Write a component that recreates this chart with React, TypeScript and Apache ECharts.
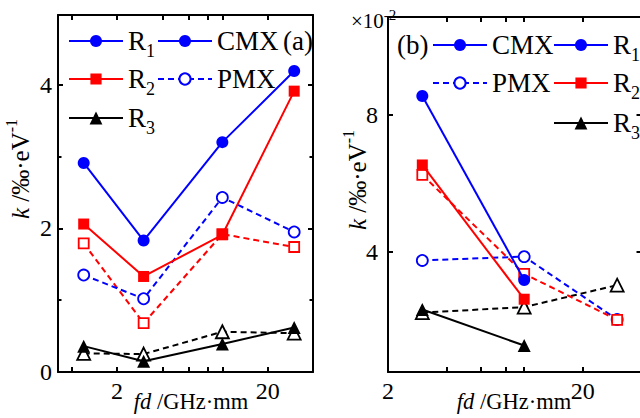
import React, { useEffect, useRef } from 'react';
import * as echarts from 'echarts';

// fd values (GHz·mm)
const fdA = [1.2, 3, 10, 30];
const fdB = [3, 10, 30];

// panel (a) k values (‰·eV^-1)
const aR1CMX = [2.91, 1.83, 3.2, 4.19];
const aR1PMX = [1.35, 1.02, 2.43, 1.95];
const aR2CMX = [2.06, 1.33, 1.91, 3.91];
const aR2PMX = [1.79, 0.68, 1.92, 1.74];
const aR3CMX = [0.36, 0.15, 0.39, 0.62];
const aR3PMX = [0.26, 0.25, 0.56, 0.54];

// panel (b) k values (×10^-2 ‰·eV^-1)
const bR1CMX = [8.55, 3.19];
const bR1PMX = [3.76, 3.87, 2.04];
const bR2CMX = [6.54, 2.63];
const bR2PMX = [6.25, 3.37, 2.03];
const bR3CMX = [2.33, 1.28];
const bR3PMX = [2.24, 2.4, 3.04];

// ticks
const xTicksA = [1, 2, 4, 6, 8, 10, 20];
const xTicksB = [4, 6, 8, 10, 20];
const xLabels = [2, 20];
const yMajorA = [0, 2, 4];
const yMinorA = [1, 3];
const yMajorB = [4, 8];

const FONT = 'Liberation Serif';
const BLUE = '#0000ff';
const RED = '#ff0000';
const BLACK = '#000000';

function xAxisCfg(grid: number, min: number, max: number, pos: string, ticks: number[], showLabel: boolean) {
  return {
    type: 'value',
    gridIndex: grid,
    position: pos,
    min,
    max,
    axisLine: { show: true, onZero: false, lineStyle: { color: '#000', width: 2 } },
    axisTick: {
      show: true,
      inside: true,
      length: 5,
      lineStyle: { color: '#000', width: 2 },
      customValues: ticks.map((t) => Math.log10(t)),
    },
    axisLabel: {
      show: showLabel,
      customValues: xLabels.map((t) => Math.log10(t)),
      formatter: (v: number) => String(Math.round(Math.pow(10, v))),
      fontSize: 24,
      fontFamily: FONT,
      color: '#000',
      margin: 7,
    },
    splitLine: { show: false },
  };
}

function yAxisCfg(
  grid: number,
  min: number,
  max: number,
  pos: string,
  ticks: number[],
  tickLen: number,
  showLine: boolean,
  showLabel: boolean,
  margin: number
) {
  return {
    type: 'value',
    gridIndex: grid,
    position: pos,
    min,
    max,
    axisLine: { show: showLine, onZero: false, lineStyle: { color: '#000', width: 2 } },
    axisTick: {
      show: true,
      inside: true,
      length: tickLen,
      lineStyle: { color: '#000', width: 2 },
      customValues: ticks,
    },
    axisLabel: {
      show: showLabel,
      customValues: ticks,
      fontSize: 24,
      fontFamily: FONT,
      color: '#000',
      margin,
    },
    splitLine: { show: false },
  };
}

function ser(
  name: string,
  xi: number,
  yi: number,
  xs: number[],
  ys: number[],
  color: string,
  symbol: string,
  size: number,
  open: boolean,
  dashed: boolean,
  z: number
) {
  return {
    type: 'line',
    name,
    xAxisIndex: xi,
    yAxisIndex: yi,
    data: ys.map((y, i) => [Math.log10(xs[i]), y]),
    symbol,
    symbolSize: size,
    showSymbol: true,
    lineStyle: { color, width: 2, type: dashed ? [6, 4] : 'solid' },
    itemStyle: open
      ? { color: '#ffffff', borderColor: color, borderWidth: 1.8 }
      : { color, borderColor: color, borderWidth: 0 },
    z,
    silent: true,
    emphasis: { disabled: true },
  };
}

function leg(name: string, left: number, cy: number, ih: number) {
  return {
    data: [name],
    left,
    top: cy - 19,
    orient: 'horizontal',
    padding: 0,
    itemWidth: 54,
    itemHeight: ih,
    selectedMode: false,
    textStyle: {
      fontFamily: FONT,
      fontSize: 27,
      color: '#000',
      lineHeight: 38,
      rich: {
        s: { fontFamily: FONT, fontSize: 18, lineHeight: 18, verticalAlign: 'bottom', color: '#000' },
      },
    },
    formatter: (n: string) => (n.startsWith('R') ? `R{s|${n.slice(1)}}` : n),
  };
}

function titleText(x: number, y: number, text: string, rotated: boolean, size: number) {
  return {
    type: 'text',
    x,
    y,
    rotation: rotated ? Math.PI / 2 : 0,
    style: {
      text,
      fontFamily: FONT,
      fontSize: size,
      lineHeight: 34,
      fill: '#000',
      align: 'center',
      verticalAlign: 'middle',
      rich: {
        i: { fontFamily: FONT, fontSize: size, fontStyle: 'italic', lineHeight: 34, fill: '#000' },
        p: { fontFamily: FONT, fontSize: 16, lineHeight: 16, verticalAlign: 'top', fill: '#000' },
      },
    },
  };
}

export default function App() {
  const ref = useRef<HTMLDivElement>(null);
  useEffect(() => {
    if (!ref.current) return;
    const chart = echarts.init(ref.current, undefined, { renderer: 'svg' });
    const option: any = {
      animation: false,
      backgroundColor: '#ffffff',
      textStyle: { fontFamily: FONT },
      grid: [
        { left: 58, top: 15, width: 255, height: 357 },
        { left: 388, top: 17, width: 253.5, height: 355 },
      ],
      xAxis: [
        xAxisCfg(0, Math.log10(0.81), Math.log10(40), 'bottom', xTicksA, true),
        xAxisCfg(0, Math.log10(0.81), Math.log10(40), 'top', xTicksA, false),
        xAxisCfg(1, Math.log10(2), Math.log10(40), 'bottom', xTicksB, true),
        xAxisCfg(1, Math.log10(2), Math.log10(40), 'top', xTicksB, false),
      ],
      yAxis: [
        yAxisCfg(0, 0, 4.97, 'left', yMajorA, 5, true, true, 6),
        yAxisCfg(0, 0, 4.97, 'left', yMinorA, 3.5, false, false, 6),
        yAxisCfg(0, 0, 4.97, 'right', yMajorA, 5, true, false, 6),
        yAxisCfg(0, 0, 4.97, 'right', yMinorA, 3.5, false, false, 6),
        yAxisCfg(1, 0.51, 10.85, 'left', yMajorB, 5, true, true, 10),
        yAxisCfg(1, 0.51, 10.85, 'right', yMajorB, 5, true, false, 10),
      ],
      legend: [
        leg('R1', 68, 41, 15),
        leg('R2', 68, 79, 14),
        leg('R3', 68, 118, 16),
        leg('CMX', 157, 41, 15),
        leg('PMX', 157, 79, 14),
        leg('CMX', 432, 45, 15),
        leg('PMX', 432, 83, 14),
        leg('R1', 553, 45, 15),
        leg('R2', 553, 83, 14),
        leg('R3', 553, 123, 16),
      ],
      series: [
        // legend samples (no data)
        ser('R1', 0, 0, [], [], BLUE, 'circle', 12, false, false, 1),
        ser('R2', 0, 0, [], [], RED, 'rect', 11, false, false, 1),
        ser('R3', 0, 0, [], [], BLACK, 'triangle', 13, false, false, 1),
        ser('CMX', 0, 0, [], [], BLUE, 'circle', 12, false, false, 1),
        ser('PMX', 0, 0, [], [], BLUE, 'circle', 11, true, true, 1),
        // panel (a)
        ser('a-R3-PMX', 0, 0, fdA, aR3PMX, BLACK, 'triangle', 13, true, true, 2),
        ser('a-R2-PMX', 0, 0, fdA, aR2PMX, RED, 'rect', 10, true, true, 2),
        ser('a-R1-PMX', 0, 0, fdA, aR1PMX, BLUE, 'circle', 11, true, true, 2),
        ser('a-R3-CMX', 0, 0, fdA, aR3CMX, BLACK, 'triangle', 13, false, false, 3),
        ser('a-R2-CMX', 0, 0, fdA, aR2CMX, RED, 'rect', 11, false, false, 3),
        ser('a-R1-CMX', 0, 0, fdA, aR1CMX, BLUE, 'circle', 12, false, false, 3),
        // panel (b)
        ser('b-R3-PMX', 2, 4, fdB, bR3PMX, BLACK, 'triangle', 13, true, true, 2),
        ser('b-R1-PMX', 2, 4, fdB, bR1PMX, BLUE, 'circle', 11, true, true, 2),
        ser('b-R2-PMX', 2, 4, fdB, bR2PMX, RED, 'rect', 10, true, true, 2),
        ser('b-R3-CMX', 2, 4, fdB, bR3CMX, BLACK, 'triangle', 13, false, false, 3),
        ser('b-R2-CMX', 2, 4, fdB, bR2CMX, RED, 'rect', 11, false, false, 3),
        ser('b-R1-CMX', 2, 4, fdB, bR1CMX, BLUE, 'circle', 12, false, false, 3),
      ],
      graphic: [
        titleText(20, 169, '{i|k} /‰·eV{p|-1}', true, 25),
        titleText(357, 180, '{i|k} /‰·eV{p|-1}', true, 25),
        titleText(191, 401, '{i|fd} /GHz·mm', false, 22.5),
        titleText(514, 401, '{i|fd} /GHz·mm', false, 22.5),
        {
          type: 'text',
          x: 283,
          y: 41,
          style: { text: '(a)', fontFamily: FONT, fontSize: 27, fill: '#000', align: 'left', verticalAlign: 'middle' },
        },
        {
          type: 'text',
          x: 397,
          y: 45,
          style: { text: '(b)', fontFamily: FONT, fontSize: 27, fill: '#000', align: 'left', verticalAlign: 'middle' },
        },
        {
          type: 'text',
          x: 351,
          y: 21,
          style: {
            text: '×10{p|-2}',
            fontFamily: FONT,
            fontSize: 21,
            lineHeight: 28,
            fill: '#000',
            align: 'left',
            verticalAlign: 'middle',
            rich: { p: { fontFamily: FONT, fontSize: 15, lineHeight: 14, verticalAlign: 'top', fill: '#000' } },
          },
        },
      ],
    };
    chart.setOption(option);
    return () => chart.dispose();
  }, []);
  return (
    <div
      ref={ref}
      style={{ position: 'fixed', left: 0, top: 0, width: 660, height: 418, background: '#fff' }}
    />
  );
}
